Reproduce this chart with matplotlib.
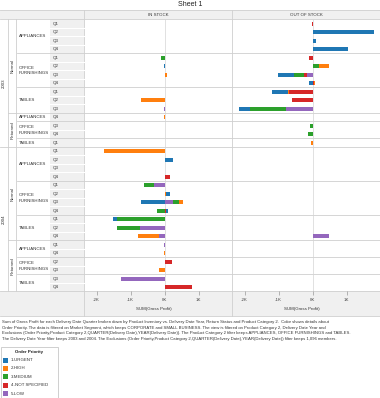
import matplotlib
matplotlib.use("Agg")
import matplotlib.pyplot as plt
from matplotlib.patches import Rectangle
import numpy as np

plt.rcParams["font.family"] = ["Liberation Sans", "DejaVu Sans"]

W, H = 380, 398

priorities = ["1-URGENT", "2-HIGH", "3-MEDIUM", "4-NOT SPECIFIED", "5-LOW"]
priority_colors = ["#1f77b4", "#ff7f0e", "#2ca02c", "#d62728", "#9467bd"]

inventory = ["IN STOCK", "OUT OF STOCK"]

# (year, return status, category, quarters shown)
row_groups = [
    ("2003", "Normal", "APPLIANCES", ["Q1", "Q2", "Q3", "Q4"]),
    ("2003", "Normal", "OFFICE\nFURNISHINGS", ["Q1", "Q2", "Q3", "Q4"]),
    ("2003", "Normal", "TABLES", ["Q1", "Q2", "Q3"]),
    ("2003", "Returned", "APPLIANCES", ["Q4"]),
    ("2003", "Returned", "OFFICE\nFURNISHINGS", ["Q3", "Q4"]),
    ("2003", "Returned", "TABLES", ["Q1"]),
    ("2004", "Normal", "APPLIANCES", ["Q1", "Q2", "Q3", "Q4"]),
    ("2004", "Normal", "OFFICE\nFURNISHINGS", ["Q1", "Q2", "Q3", "Q4"]),
    ("2004", "Normal", "TABLES", ["Q1", "Q2", "Q4"]),
    ("2004", "Returned", "APPLIANCES", ["Q1", "Q4"]),
    ("2004", "Returned", "OFFICE\nFURNISHINGS", ["Q2", "Q3"]),
    ("2004", "Returned", "TABLES", ["Q3", "Q4"]),
]

# gross profit in thousands, one value per row (32 rows, order of row_groups)
in_urgent = [0, 0, 0, 0,  0, -0.02, 0, 0,  0, 0, 0,  0,  0, 0,  0,
             0, 0.25, 0.01, 0,  0, 0.13, -0.70, 0.06,  -0.11, 0, 0,  0, 0,  0, 0,  0, 0]
in_high = [0, 0, 0, 0,  0, 0, 0.08, 0,  0, -0.69, 0,  -0.03,  0, 0,  0,
           -1.77, 0, 0, 0,  0, 0.03, 0.11, 0,  0, 0, -0.62,  0, -0.03,  0, -0.18,  0, 0]
in_medium = [0, 0, 0, 0,  -0.11, 0, 0, 0,  0, 0, 0,  0,  0, 0,  0,
             0, 0, 0, 0,  -0.30, 0, 0.16, -0.22,  -1.41, -0.70, 0,  0, 0,  0, 0,  0, 0]
in_notspec = [0, 0, 0, 0,  0, 0, 0, 0,  0, 0, 0,  0,  0, 0,  0,
              0, 0, 0, 0.17,  0, 0, 0, 0.04,  0, 0, 0,  0, 0,  0.21, 0,  0, 0.80]
in_low = [0, 0, 0, 0,  0, 0, 0, 0,  0, 0, -0.01,  0,  0, 0,  0,
          0, 0, 0, 0,  -0.30, 0, 0.26, 0,  0, -0.71, -0.17,  -0.01, 0,  0, 0,  -1.29, 0]

out_urgent = [0, 1.80, 0.10, 1.04,  0, 0, -0.47, -0.10,  -0.47, 0, -0.34,  0,  0, 0,  0,
              0, 0, 0, 0,  0, 0, 0, 0,  0, 0, 0,  0, 0,  0, 0,  0, 0]
out_high = [0, 0, 0, 0,  0, 0.28, 0, 0.04,  -0.05, 0, 0,  0,  0, 0,  -0.06,
            0, 0, 0, 0,  0, 0, 0, 0,  0, 0, 0,  0, 0,  0, 0,  0, 0]
out_medium = [0, 0, 0, 0,  0, 0.20, -0.32, 0,  0, 0, -1.05,  0,  -0.08, -0.14,  0,
              0, 0, 0, 0,  0, 0, 0, 0,  0, 0, 0,  0, 0,  0, 0,  0, 0]
out_notspec = [-0.01, 0, 0, 0,  -0.12, 0, -0.08, 0.04,  -0.68, -0.61, 0,  0,  0, 0,  0,
               0, 0, 0, 0,  0, 0, 0, 0,  0, 0, 0,  0, 0,  0, 0,  0, 0]
out_low = [0, 0, 0, 0,  0, 0, -0.16, 0,  0, 0, -0.78,  0,  0, 0,  0,
           0, 0, 0, 0,  0, 0, 0, 0,  0, 0, 0.49,  0, 0,  0, 0,  0, 0]

panel_values = [
    [in_urgent, in_high, in_medium, in_notspec, in_low],
    [out_urgent, out_high, out_medium, out_notspec, out_low],
]

x_ticks = [-2, -1, 0, 1]
x_ticklabels = ["-2K", "-1K", "0K", "1K"]

caption = [
    "Sum of Gross Profit for each Delivery Date Quarter broken down by Product Inventory vs. Delivery Date Year, Return Status and Product Category 2.  Color shows details about",
    "Order Priority. The data is filtered on Market Segment, which keeps CORPORATE and SMALL BUSINESS. The view is filtered on Product Category 2, Delivery Date Year and",
    "Exclusions (Order Priority,Product Category 2,QUARTER(Delivery Date),YEAR(Delivery Date)). The Product Category 2 filter keeps APPLIANCES, OFFICE FURNISHINGS and TABLES.",
    "The Delivery Date Year filter keeps 2003 and 2004. The Exclusions (Order Priority,Product Category 2,QUARTER(Delivery Date),YEAR(Delivery Date)) filter keeps 1,096 members.",
]

# layout in pixels
TOP, ROW = 19.3, 8.5
n_rows = sum(len(g[3]) for g in row_groups)
BOTTOM = TOP + ROW * n_rows
PANEL_X = [84, 232]
PANEL_W = 148
AXIS_END = 316
LINE = "#cfcfcf"
FS = 3.2

fig = plt.figure(figsize=(W / 100, H / 100), dpi=100)
fig.patch.set_facecolor("white")

ov = fig.add_axes([0, 0, 1, 1], zorder=0)
ov.set_xlim(0, W)
ov.set_ylim(H, 0)
ov.axis("off")


def ry(i):
    return TOP + ROW * i


ov.text(W / 2, 5, "Sheet 1", ha="center", va="center", fontsize=5, color="#222")

# header band and axis band
ov.add_patch(Rectangle((0, 10), W, TOP - 10, fc="#f0f0f0", ec="none"))
ov.add_patch(Rectangle((0, BOTTOM), W, AXIS_END - BOTTOM, fc="#f0f0f0", ec="none"))
ov.add_patch(Rectangle((50, TOP), 34, BOTTOM - TOP, fc="#f0f0f0", ec="none"))
for yy in (10, TOP, BOTTOM, AXIS_END):
    ov.plot([0, W], [yy, yy], color=LINE, lw=0.6)
for xx, name in zip(PANEL_X, inventory):
    ov.text(xx + PANEL_W / 2, (10 + TOP) / 2, name, ha="center", va="center", fontsize=FS, color="#333")
    ov.text(xx + PANEL_W / 2 - 4, 309, "SUM(Gross Profit)", ha="center", va="center", fontsize=FS, color="#333")
    ov.plot([xx, xx], [10, AXIS_END], color=LINE, lw=0.6)
for xx in (8.3, 16.3):
    ov.plot([xx, xx], [TOP, BOTTOM], color=LINE, lw=0.6)

# row headers
i = 0
prev = None
spans = {}
for year, status, cat, quarters in row_groups:
    start = i
    if prev is not None:
        x0 = 17
        if status != prev[1] or year != prev[0]:
            x0 = 8.3
        if year != prev[0]:
            x0 = 0
        ov.plot([x0, W], [ry(i), ry(i)], color=LINE, lw=0.6)
    for q in quarters:
        ov.text(53, ry(i) + ROW / 2, q, ha="left", va="center", fontsize=FS, color="#333")
        if i > start:
            ov.plot([50, 84], [ry(i), ry(i)], color="white", lw=0.8)
        i += 1
    ov.text(19, (ry(start) + ry(i)) / 2, cat, ha="left", va="center", fontsize=FS,
            color="#333", linespacing=1.5)
    spans.setdefault((year,), [start, i])[1] = i
    spans.setdefault((year, status), [start, i])[1] = i
    prev = (year, status)

for key, (a, b) in spans.items():
    xx = 4.2 if len(key) == 1 else 12.3
    ov.text(xx, (ry(a) + ry(b)) / 2, key[-1], rotation=90, ha="center", va="center",
            fontsize=FS, color="#333")

# panels
y = np.arange(n_rows) + 0.5
stack_order = [4, 3, 2, 1, 0]
for xx, values in zip(PANEL_X, panel_values):
    ax = fig.add_axes([xx / W, 1 - BOTTOM / H, PANEL_W / W, (BOTTOM - TOP) / H], zorder=2)
    ax.set_facecolor("none")
    ax.axvline(0, color="#d4d4d4", lw=0.5, zorder=0)
    pos = np.zeros(n_rows)
    neg = np.zeros(n_rows)
    for k in stack_order:
        v = np.array(values[k], dtype=float)
        left = np.where(v >= 0, pos, neg)
        ax.barh(y, v, left=left, height=0.47, color=priority_colors[k], linewidth=0, zorder=2)
        pos = pos + np.clip(v, 0, None)
        neg = neg + np.clip(v, None, 0)
    ax.set_xlim(-2.37, 1.98)
    ax.set_ylim(n_rows, 0)
    ax.set_yticks([])
    ax.set_xticks(x_ticks, labels=x_ticklabels)
    ax.tick_params(axis="x", length=3, width=0.5, color="#999", labelsize=FS,
                   labelcolor="#444", pad=1.5)
    for s in ax.spines.values():
        s.set_visible(False)

# legend
ov.add_patch(Rectangle((0.5, 346.5), 57.5, 51, fc="white", ec="#c8c8c8", lw=0.6))
ov.text(29, 352, "Order Priority", ha="center", va="center", fontsize=FS, fontweight="bold", color="#222")
for k, (name, col) in enumerate(zip(priorities, priority_colors)):
    yc = 360 + 8.45 * k
    ov.add_patch(Rectangle((2.5, yc - 2.5), 5, 5, fc=col, ec="none"))
    ov.text(10.7, yc, name, ha="left", va="center", fontsize=FS, color="#333")

for k, line in enumerate(caption):
    ov.text(2, 322.5 + 5.35 * k, line, ha="left", va="center", fontsize=3.1, color="#333")

fig.savefig("out.png", dpi=100)
